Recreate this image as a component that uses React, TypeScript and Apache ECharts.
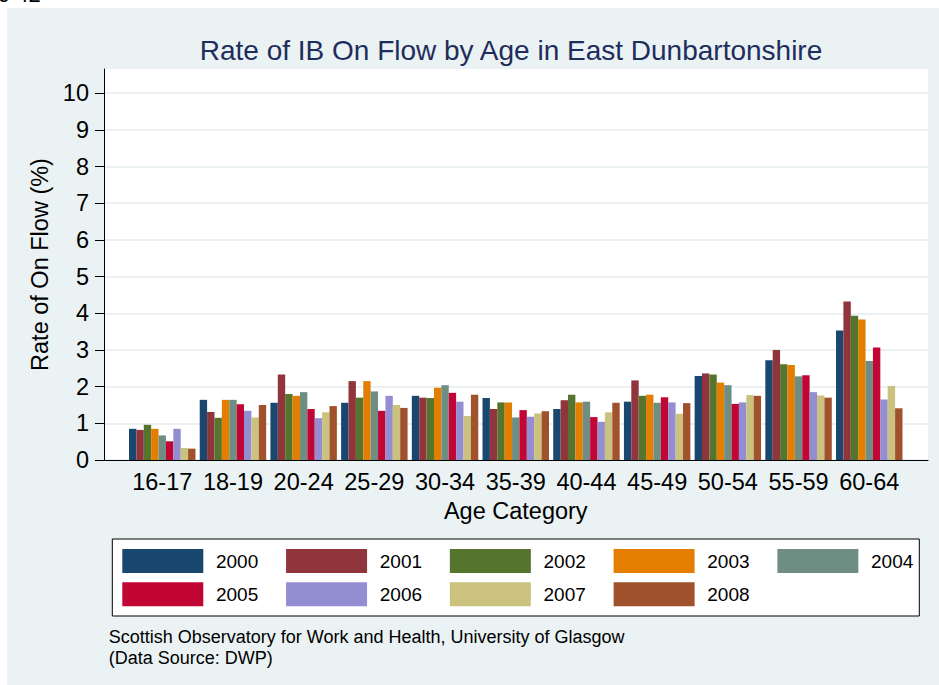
import React, { useEffect, useRef } from "react";
import * as echarts from "echarts";

const ages = ["16-17", "18-19", "20-24", "25-29", "30-34", "35-39", "40-44", "45-49", "50-54", "55-59", "60-64"];
const years = ["2000", "2001", "2002", "2003", "2004", "2005", "2006", "2007", "2008"];
const y2000 = [0.85, 1.64, 1.56, 1.56, 1.75, 1.69, 1.39, 1.59, 2.29, 2.72, 3.53];
const y2001 = [0.82, 1.31, 2.33, 2.15, 1.7, 1.39, 1.63, 2.17, 2.36, 3.0, 4.32];
const y2002 = [0.96, 1.15, 1.8, 1.7, 1.69, 1.57, 1.78, 1.75, 2.33, 2.61, 3.93];
const y2003 = [0.85, 1.64, 1.75, 2.15, 1.97, 1.57, 1.57, 1.78, 2.11, 2.59, 3.83];
const y2004 = [0.67, 1.64, 1.85, 1.87, 2.04, 1.16, 1.59, 1.56, 2.04, 2.28, 2.7];
const y2005 = [0.51, 1.52, 1.39, 1.34, 1.83, 1.36, 1.17, 1.71, 1.53, 2.31, 3.07];
const y2006 = [0.85, 1.34, 1.14, 1.75, 1.59, 1.18, 1.04, 1.57, 1.57, 1.85, 1.65];
const y2007 = [0.33, 1.16, 1.3, 1.5, 1.2, 1.27, 1.3, 1.26, 1.77, 1.76, 2.02];
const y2008 = [0.31, 1.5, 1.47, 1.42, 1.78, 1.33, 1.56, 1.55, 1.75, 1.7, 1.41];
const seriesValues = [y2000, y2001, y2002, y2003, y2004, y2005, y2006, y2007, y2008];
const colors = ["#1A476F", "#90353B", "#55752F", "#E37E00", "#6E8E84", "#C10534", "#938DD2", "#CAC27E", "#A0522D"];
const yTicks = [0, 1, 2, 3, 4, 5, 6, 7, 8, 9, 10];
const footLines = ["Scottish Observatory for Work and Health, University of Glasgow", "(Data Source: DWP)"];

const FONT = "'Liberation Sans', Arial, Helvetica, sans-serif";
const Y_MAX = 10.66;

export default function App() {
  const ref = useRef<HTMLDivElement>(null);
  useEffect(() => {
    if (!ref.current) return;
    const chart = echarts.init(ref.current, undefined, { renderer: "svg" });
    const legendCommon = {
      orient: "horizontal",
      left: 122.3,
      padding: 0,
      itemWidth: 81,
      itemHeight: 24,
      itemGap: 27.8,
      icon: "rect",
      selectedMode: false,
      textStyle: { fontFamily: FONT, fontSize: 19, color: "#000", padding: [0, 0, 0, 7.7] },
    };
    chart.setOption({
      animation: false,
      textStyle: { fontFamily: FONT },
      title: {
        text: "Rate of IB On Flow by Age in East Dunbartonshire",
        left: 511,
        textAlign: "center",
        top: 36,
        padding: 0,
        textStyle: { fontFamily: FONT, fontSize: 28, fontWeight: "normal", color: "#1F2D5C" },
      },
      graphic: [
        { type: "rect", z: -10, silent: true, shape: { x: 7, y: 8, width: 932, height: 677 }, style: { fill: "#EAF2F3" } },
        { type: "rect", z: 1, silent: true, shape: { x: 112.3, y: 539, width: 807, height: 77 }, style: { fill: "#fff", stroke: "#000", lineWidth: 1 } },
        {
          type: "text", z: 5, x: -2, y: 5,
          style: { text: "9 42", fontFamily: FONT, fontSize: 22, fill: "#000", verticalAlign: "bottom" },
        },
        ...footLines.map((t, i) => ({
          type: "text", z: 5, x: 108.7, y: 628 + i * 20.8,
          style: { text: t, fontFamily: FONT, fontSize: 18, fill: "#000", verticalAlign: "top" },
        })),
      ],
      legend: [
        { ...legendCommon, top: 549, data: years.slice(0, 5) },
        { ...legendCommon, top: 582.3, data: years.slice(5) },
      ],
      grid: [
        { left: 104, right: 11, top: 69, bottom: 225, show: true, backgroundColor: "#fff", borderWidth: 0, containLabel: false },
        { left: 126.9, right: 34.4, top: 69, bottom: 225, containLabel: false },
      ],
      xAxis: [
        {
          type: "value", gridIndex: 0, min: 0, max: 1,
          axisLine: { show: true, lineStyle: { color: "#000", width: 1 } },
          axisTick: { show: false }, axisLabel: { show: false }, splitLine: { show: false },
        },
        {
          type: "category", gridIndex: 1, data: ages,
          axisLine: { show: false }, axisTick: { show: false },
          axisLabel: { interval: 0, fontFamily: FONT, fontSize: 23.5, color: "#000", margin: 10 },
          name: "Age Category", nameLocation: "middle", nameGap: 38,
          nameTextStyle: { fontFamily: FONT, fontSize: 23.5, color: "#000" },
        },
      ],
      yAxis: [
        {
          type: "value", gridIndex: 0, min: 0, max: Y_MAX, interval: 1,
          axisLine: { show: true, lineStyle: { color: "#000", width: 1 } },
          axisTick: { show: true, length: 9, customValues: yTicks, lineStyle: { color: "#000" } },
          axisLabel: { customValues: yTicks, fontFamily: FONT, fontSize: 23.5, color: "#000", margin: 15 },
          splitLine: { show: true, lineStyle: { color: "#E4ECEF", width: 1.5 } },
          name: "Rate of On Flow (%)", nameLocation: "middle", nameGap: 39,
          nameTextStyle: { fontFamily: FONT, fontSize: 23.5, color: "#000" },
        },
        { type: "value", gridIndex: 1, min: 0, max: Y_MAX, show: false, splitLine: { show: false } },
      ],
      series: years.map((yr, i) => ({
        name: yr,
        type: "bar",
        xAxisIndex: 1,
        yAxisIndex: 1,
        data: seriesValues[i],
        barGap: "0%",
        barCategoryGap: "6%",
        itemStyle: { color: colors[i] },
      })),
    });
    return () => chart.dispose();
  }, []);
  return <div ref={ref} style={{ position: "absolute", left: 0, top: 0, width: 939, height: 685 }} />;
}
